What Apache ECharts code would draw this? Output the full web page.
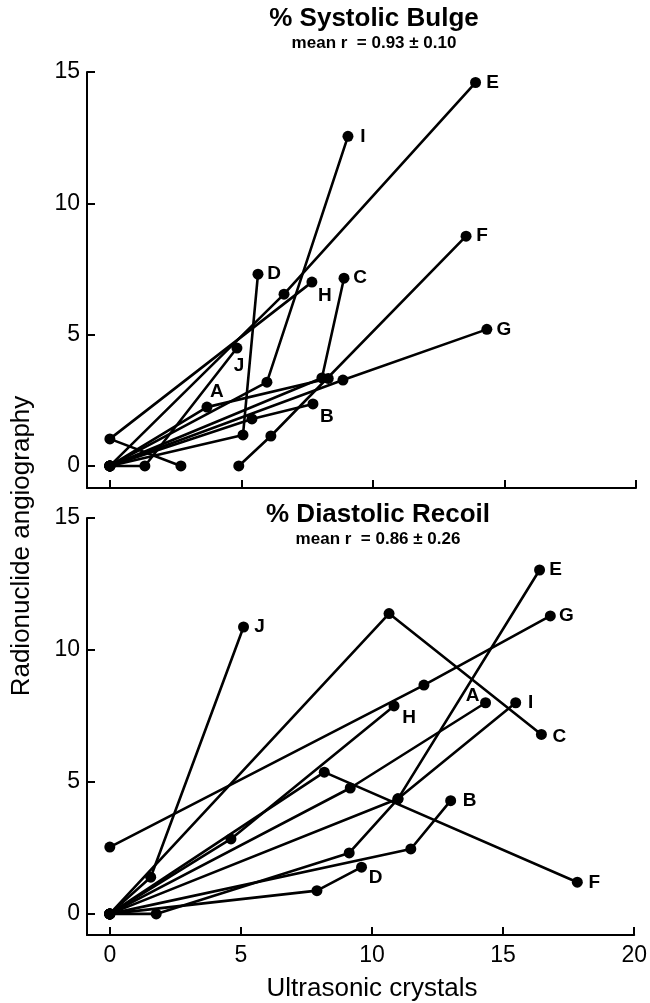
<!DOCTYPE html>
<html><head><meta charset="utf-8">
<script src="https://cdn.jsdelivr.net/npm/echarts@6/dist/echarts.min.js"></script>
<style>html,body{margin:0;padding:0;background:#fff}#c{width:650px;height:1003px}</style>
</head><body><div id="c"></div>
<script>
// ---- data ----
const xTicks = [0, 5, 10, 15, 20];
const yTicks = [0, 5, 10, 15];
const xAxisName = 'Ultrasonic crystals';
const yAxisName = 'Radionuclide angiography';
const bulgeTitle = '% Systolic Bulge';
const bulgeSub = 'mean r  = 0.93 ± 0.10';
const recoilTitle = '% Diastolic Recoil';
const recoilSub = 'mean r  = 0.86 ± 0.26';

// % Systolic Bulge (top panel): [ultrasonic, radionuclide]
const bulgeA = [[0,0],[3.69,2.24],[8.3,3.33]];
const bulgeB = [[0,0],[5.4,1.79],[7.72,2.36]];
const bulgeC = [[0,0],[8.06,3.35],[8.9,7.15]];
const bulgeD = [[0,0],[5.06,1.18],[5.63,7.3]];
const bulgeE = [[0,0],[6.62,6.54],[13.9,14.6]];
const bulgeF = [[4.9,0],[6.12,1.14],[13.54,8.75]];
const bulgeG = [[0,0],[8.86,3.27],[14.33,5.2]];
const bulgeH = [[2.7,0],[0,1.03],[7.68,7.0]];
const bulgeI = [[0,0],[5.97,3.19],[9.05,12.55]];
const bulgeJ = [[0,0],[1.33,0],[4.83,4.49]];

// % Diastolic Recoil (bottom panel)
const recoilA = [[0,0],[9.17,4.77],[14.33,8.0]];
const recoilB = [[0,0],[11.48,2.46],[13.0,4.29]];
const recoilC = [[0,0],[10.65,11.38],[16.46,6.8]];
const recoilD = [[0,0],[7.9,0.88],[9.6,1.77]];
const recoilE = [[0,0],[1.77,0],[9.13,2.31],[10.99,4.36],[16.39,13.03]];
const recoilF = [[0,0],[8.18,5.37],[17.83,1.2]];
const recoilG = [[0,2.53],[11.98,8.67],[16.8,11.29]];
const recoilH = [[0,0],[4.62,2.84],[10.84,7.88]];
const recoilI = [[0,0],[10.99,4.36],[15.48,8.0]];
const recoilJ = [[0,0],[1.56,1.39],[5.1,10.87]];

// ---- styling ----
const FONT = '"Liberation Sans", Arial, Helvetica, sans-serif';
const bulgeSets = {A:bulgeA,B:bulgeB,C:bulgeC,D:bulgeD,E:bulgeE,F:bulgeF,G:bulgeG,H:bulgeH,I:bulgeI,J:bulgeJ};
const recoilSets = {A:recoilA,B:recoilB,C:recoilC,D:recoilD,E:recoilE,F:recoilF,G:recoilG,H:recoilH,I:recoilI,J:recoilJ};
// which point carries the letter, and where the letter sits relative to it
const bulgeLabel = {A:[1,[10,-15]],B:[2,[14,13]],C:[2,[16,0]],D:[2,[16,0]],E:[2,[17,0]],F:[2,[16,0]],G:[2,[17,0]],H:[2,[13,14]],I:[2,[15,0]],J:[2,[2,18]]};
const recoilLabel = {A:[2,[-13,-7]],B:[2,[19,0]],C:[2,[18,2]],D:[2,[14,11]],E:[4,[16,0]],F:[2,[17,1]],G:[2,[16,0]],H:[2,[15,12]],I:[2,[15,0]],J:[2,[16,0]]};

function mk(sets, labels, gi) {
  return Object.keys(sets).map(k => {
    const [li, off] = labels[k];
    return {
      type: 'line', name: k, xAxisIndex: gi, yAxisIndex: gi,
      symbol: 'circle', symbolSize: 11, showSymbol: true, animation: false,
      lineStyle: {color: '#000', width: 2.6}, itemStyle: {color: '#000'},
      emphasis: {disabled: true},
      data: sets[k].map((p, i) => i === li ? {
        value: p,
        label: {show: true, formatter: k, position: 'inside', offset: off,
          color: '#000', fontSize: 19, fontWeight: 'bold', fontFamily: FONT}
      } : p)
    };
  });
}

function xa(gi, showLabel) {
  return {
    gridIndex: gi, type: 'value', min: -0.87, max: 20,
    axisLine: {show: true, onZero: false, lineStyle: {color: '#000', width: 2}},
    axisTick: {show: true, inside: true, length: 8, customValues: xTicks, lineStyle: {color: '#000', width: 2}},
    axisLabel: {show: showLabel, customValues: xTicks, fontSize: 23, color: '#000', margin: 9, fontFamily: FONT},
    splitLine: {show: false}
  };
}
function ya(gi, mn) {
  return {
    gridIndex: gi, type: 'value', min: mn, max: 15,
    axisLine: {show: true, onZero: false, lineStyle: {color: '#000', width: 2}},
    axisTick: {show: true, inside: true, length: 8, customValues: yTicks, lineStyle: {color: '#000', width: 2}},
    axisLabel: {show: true, customValues: yTicks, fontSize: 23, color: '#000', margin: 7, fontFamily: FONT},
    splitLine: {show: false}
  };
}

function txt(x, y, text, size, weight, rot) {
  return {type: 'text', x: x, y: y, rotation: rot || 0,
    style: {text: text, fill: '#000', fontSize: size, fontWeight: weight, fontFamily: FONT,
      align: 'center', verticalAlign: 'middle'}};
}

const chart = echarts.init(document.getElementById('c'), null, {renderer: 'canvas'});
chart.setOption({
  backgroundColor: '#fff',
  animation: false,
  grid: [
    {left: 87, right: 14, top: 72, height: 416},
    {left: 87, right: 14, top: 518, height: 417}
  ],
  xAxis: [xa(0, false), xa(1, true)],
  yAxis: [ya(0, -0.84), ya(1, -0.8)],
  graphic: [
    txt(374, 19, bulgeTitle, 26, 'bold'),
    txt(374, 43, bulgeSub, 17, 'bold'),
    txt(378, 515, recoilTitle, 26, 'bold'),
    txt(378, 539, recoilSub, 17, 'bold'),
    txt(372, 989, xAxisName, 26, 'normal'),
    txt(22, 546, yAxisName, 26, 'normal', Math.PI / 2)
  ],
  series: mk(bulgeSets, bulgeLabel, 0).concat(mk(recoilSets, recoilLabel, 1))
});
</script>
</body></html>
